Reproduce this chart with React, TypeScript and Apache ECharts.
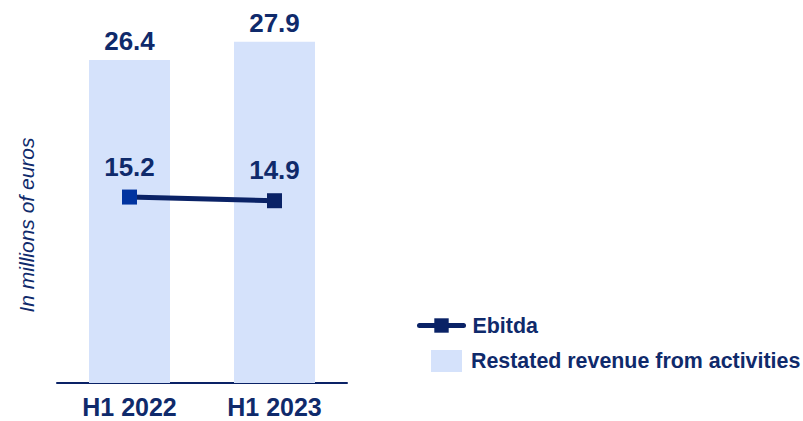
import React, { useEffect, useRef } from "react";
import * as echarts from "echarts";

const categories = ["H1 2022", "H1 2023"];
const revenue = [26.4, 27.9];
const ebitda = [15.2, 14.9];
const yAxisTitle = "In millions of euros";
const revenueName = "Restated revenue from activities";
const ebitdaName = "Ebitda";

const NAVY = "#0f2a6b";
const LINE = "#0a2266";
const BAR = "#d5e2fb";
const FONT = "Arial, 'Liberation Sans', Helvetica, sans-serif";

export default function App() {
  const ref = useRef<HTMLDivElement>(null);
  useEffect(() => {
    if (!ref.current) return;
    const chart = echarts.init(ref.current, null, { renderer: "svg" });
    const legendText = {
      color: NAVY,
      fontSize: 21.4,
      fontWeight: "bold",
      fontFamily: FONT,
      padding: [0, 0, 0, 4],
    };
    chart.setOption({
      animation: false,
      backgroundColor: "#ffffff",
      grid: { left: 57, width: 290, top: 16, bottom: 38 },
      graphic: [
        {
          type: "text",
          x: 26,
          y: 225,
          rotation: Math.PI / 2,
          style: {
            text: yAxisTitle,
            fill: NAVY,
            fontSize: 21,
            fontStyle: "italic",
            fontFamily: FONT,
            textAlign: "center",
            textVerticalAlign: "middle",
          },
        },
      ],
      legend: [
        {
          data: [ebitdaName],
          left: 417,
          top: 315,
          itemWidth: 44,
          itemHeight: 18,
          itemGap: 0,
          lineStyle: { width: 5, cap: "round" },
          textStyle: legendText,
          padding: 0,
          selectedMode: false,
        },
        {
          data: [{ name: revenueName, icon: "rect" }],
          left: 431,
          top: 350,
          itemWidth: 31,
          itemHeight: 22,
          itemGap: 0,
          textStyle: legendText,
          padding: 0,
          selectedMode: false,
        },
      ],
      xAxis: {
        type: "category",
        data: categories,
        axisLine: { show: true, lineStyle: { color: LINE, width: 2 } },
        axisTick: { show: false },
        axisLabel: {
          color: NAVY,
          fontSize: 25,
          lineHeight: 22,
          fontWeight: "bold",
          fontFamily: FONT,
          margin: 13,
        },
      },
      yAxis: {
        type: "value",
        min: 0,
        max: 30,
        interval: 10,
        axisLine: { show: false },
        axisTick: { show: false },
        axisLabel: { show: false },
        splitLine: { show: false },
      },
      series: [
        {
          name: revenueName,
          type: "bar",
          data: revenue,
          barWidth: 81,
          itemStyle: { color: BAR },
          label: {
            show: true,
            position: "top",
            distance: 6,
            color: NAVY,
            fontSize: 26,
            fontWeight: "bold",
            fontFamily: FONT,
            formatter: (p: any) => p.value.toFixed(1),
          },
          z: 1,
        },
        {
          name: ebitdaName,
          type: "line",
          data: ebitda.map((v, i) =>
            i === 0 ? { value: v, itemStyle: { color: "#0033a0" } } : v
          ),
          symbol: "rect",
          symbolSize: 15,
          lineStyle: { color: LINE, width: 5 },
          itemStyle: { color: LINE },
          label: {
            show: true,
            position: "top",
            distance: 10,
            color: NAVY,
            fontSize: 26,
            fontWeight: "bold",
            fontFamily: FONT,
            formatter: (p: any) => Number(p.value).toFixed(1),
          },
          z: 3,
        },
      ],
    });
    return () => chart.dispose();
  }, []);
  return (
    <div
      ref={ref}
      style={{ position: "fixed", left: 0, top: 0, width: 803, height: 421 }}
    />
  );
}
